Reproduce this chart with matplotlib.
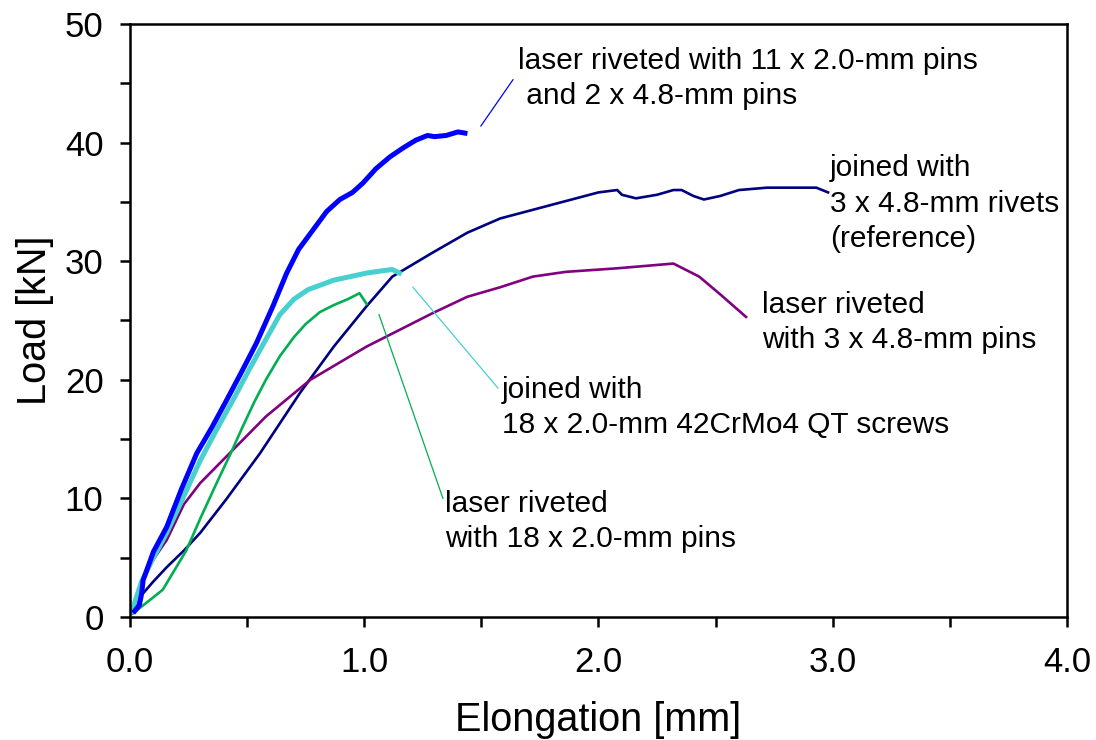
import matplotlib
matplotlib.use("Agg")
from matplotlib import pyplot as plt
from matplotlib.ticker import MultipleLocator, FormatStrFormatter

plt.rcParams['font.family'] = ['Liberation Sans', 'DejaVu Sans']

# laser riveted with 11 x 2.0-mm pins and 2 x 4.8-mm pins
blue_x = [0.02, 0.04, 0.05, 0.056, 0.10, 0.157, 0.22, 0.285, 0.35, 0.413, 0.48, 0.54, 0.61,
          0.669, 0.72, 0.78, 0.84, 0.896, 0.95, 0.995, 1.05, 1.11, 1.17, 1.22, 1.27, 1.30,
          1.35, 1.40, 1.43]
blue_y = [0.5, 1.0, 2.0, 3.1, 5.5, 7.6, 10.8, 13.8, 16.0, 18.3, 20.8, 23.1, 26.2,
          29.0, 31.0, 32.6, 34.2, 35.2, 35.8, 36.6, 37.8, 38.8, 39.6, 40.2, 40.6, 40.5,
          40.6, 40.9, 40.8]

# joined with 18 x 2.0-mm 42CrMo4 QT screws
cyan_x = [0.0, 0.013, 0.05, 0.10, 0.157, 0.23, 0.30, 0.37, 0.44, 0.51, 0.58, 0.64, 0.70,
          0.76, 0.87, 1.01, 1.08, 1.12, 1.15]
cyan_y = [0.3, 0.8, 3.0, 5.0, 7.1, 10.2, 13.2, 15.8, 18.3, 20.9, 23.4, 25.5, 26.8,
          27.6, 28.4, 29.0, 29.2, 29.3, 29.0]

# laser riveted with 18 x 2.0-mm pins
green_x = [0.0, 0.013, 0.07, 0.14, 0.24, 0.30, 0.37, 0.43, 0.48, 0.53, 0.58, 0.64, 0.70,
           0.75, 0.81, 0.87, 0.93, 0.98, 1.01]
green_y = [0.2, 0.3, 1.2, 2.3, 5.6, 8.3, 11.3, 13.8, 16.0, 18.1, 20.0, 22.0, 23.6,
           24.7, 25.7, 26.3, 26.8, 27.3, 26.4]

# joined with 3 x 4.8-mm rivets (reference)
navy_x = [0.02, 0.043, 0.10, 0.157, 0.23, 0.30, 0.41, 0.555, 0.726, 0.87, 1.01, 1.12, 1.29,
          1.44, 1.58, 1.79, 2.0, 2.08, 2.10, 2.16, 2.25, 2.32, 2.355, 2.405, 2.45, 2.52,
          2.60, 2.72, 2.93, 2.98]
navy_y = [0.8, 1.7, 3.0, 4.2, 5.6, 7.1, 9.9, 13.8, 18.9, 22.8, 26.2, 28.7, 30.7,
          32.4, 33.6, 34.7, 35.8, 36.0, 35.6, 35.3, 35.6, 36.0, 36.0, 35.5, 35.2, 35.5,
          36.0, 36.2, 36.2, 35.8]

# laser riveted with 3 x 4.8-mm pins
purple_x = [0.02, 0.028, 0.07, 0.157, 0.23, 0.30, 0.44, 0.58, 0.77, 1.01, 1.29, 1.44, 1.58,
            1.72, 1.86, 2.08, 2.32, 2.43, 2.52, 2.63]
purple_y = [0.5, 1.4, 4.0, 6.5, 9.5, 11.3, 14.1, 16.9, 20.0, 22.8, 25.6, 27.0, 27.8,
            28.7, 29.1, 29.4, 29.8, 28.7, 27.2, 25.3]

fig = plt.figure(figsize=(10.96, 7.40), dpi=100)
ax = fig.add_axes([0.1186, 0.1662, 0.8549, 0.8014])

ax.plot(navy_x, navy_y, color='#000080', lw=1.9)
ax.plot(purple_x, purple_y, color='#800080', lw=1.9)
ax.plot(green_x, green_y, color='#00B050', lw=1.9)
ax.plot(cyan_x, cyan_y, color='#48CFCF', lw=3.6)
ax.plot(blue_x, blue_y, color='#0000FF', lw=3.6)

# leader lines
ax.plot([1.498, 1.635], [41.4, 45.3], color='#0000FF', lw=0.9)
ax.plot([1.208, 1.571], [27.8, 19.3], color='#48CFCF', lw=0.9)
ax.plot([1.063, 1.336], [25.5, 10.0], color='#00B050', lw=0.9)

fs = 21.5
ls = 1.33
ax.text(1.656, 48.1, "laser riveted with 11 x 2.0-mm pins\n and 2 x 4.8-mm pins",
        fontsize=fs, va='top', ha='left', linespacing=ls)
ax.text(2.988, 39.0, "joined with\n3 x 4.8-mm rivets\n(reference)",
        fontsize=fs, va='top', ha='left', linespacing=ls)
ax.text(2.698, 27.5, "laser riveted\nwith 3 x 4.8-mm pins",
        fontsize=fs, va='top', ha='left', linespacing=ls)
ax.text(1.588, 20.3, "joined with\n18 x 2.0-mm 42CrMo4 QT screws",
        fontsize=fs, va='top', ha='left', linespacing=ls)
ax.text(1.345, 10.7, "laser riveted\nwith 18 x 2.0-mm pins",
        fontsize=fs, va='top', ha='left', linespacing=ls)

ax.set_xlim(0, 4.0)
ax.set_ylim(0, 50)
ax.xaxis.set_major_locator(MultipleLocator(1.0))
ax.xaxis.set_minor_locator(MultipleLocator(0.5))
ax.xaxis.set_major_formatter(FormatStrFormatter('%.1f'))
ax.yaxis.set_major_locator(MultipleLocator(10))
ax.yaxis.set_minor_locator(MultipleLocator(5))

for s in ax.spines.values():
    s.set_linewidth(1.8)
ax.tick_params(which='both', direction='out', length=7, width=1.8,
               top=False, right=False, labelsize=25)
ax.tick_params(axis='x', which='major', pad=14)
ax.tick_params(axis='y', which='major', pad=12)

ax.set_xlabel('Elongation [mm]', fontsize=28.5, labelpad=16)
ax.set_ylabel('Load [kN]', fontsize=28.5, labelpad=8)

fig.savefig('out.png', dpi=100)
